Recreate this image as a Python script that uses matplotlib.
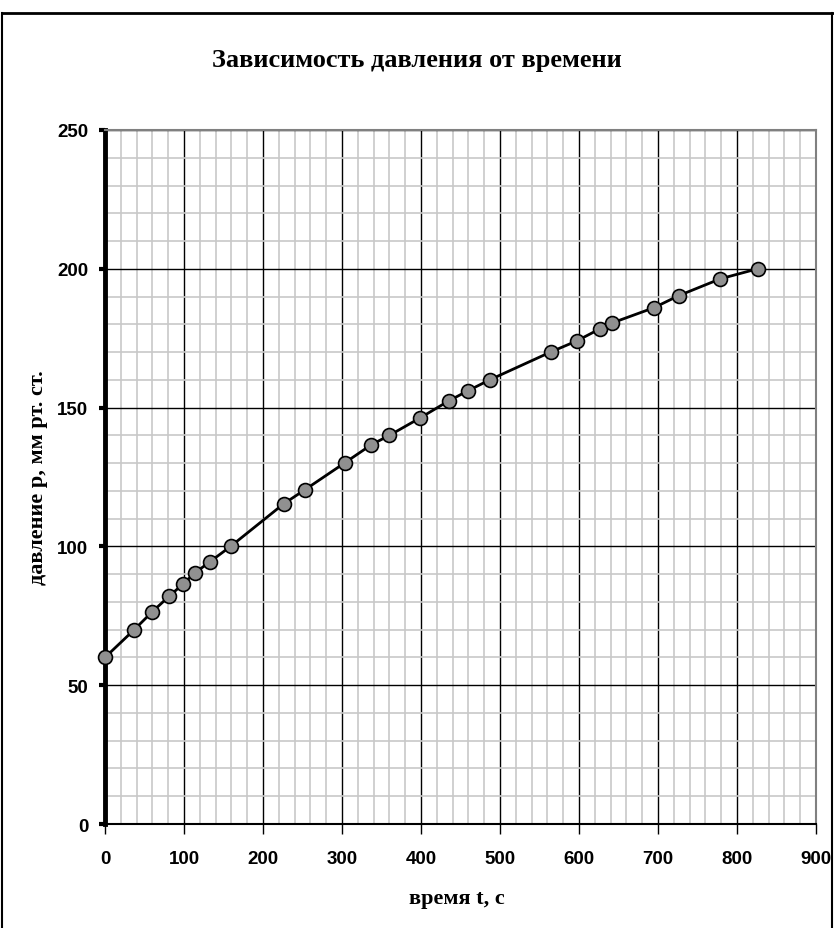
import matplotlib
matplotlib.use('Agg')
import matplotlib.pyplot as plt
from matplotlib.ticker import MultipleLocator
from matplotlib.lines import Line2D

# время t, с и давление p, мм рт. ст.
t_values = [0, 37, 60, 81, 99, 114, 133, 159, 226, 253, 304, 337, 360, 399,
            435, 459, 487, 564, 597, 626, 642, 695, 726, 779, 826]
p_values = [60, 70, 76.5, 82, 86.5, 90.5, 94.5, 100, 115.3, 120.4, 130.2, 136.6,
            140, 146.3, 152.4, 156, 160, 170, 174, 178.3, 180.5, 186, 190.3, 196.4, 200]

x_ticks = [0, 100, 200, 300, 400, 500, 600, 700, 800, 900]
y_ticks = [0, 50, 100, 150, 200, 250]

title = 'Зависимость давления от времени'
x_label = 'время t, с'
y_label = 'давление p, мм рт. ст.'

fig = plt.figure(figsize=(8.34, 9.29), dpi=100)
ax = fig.add_axes([105 / 834, 1 - 825 / 929, 711 / 834, 694 / 929])

ax.set_xlim(0, 900)
ax.set_ylim(0, 250)
ax.set_xticks(x_ticks)
ax.set_yticks(y_ticks)
ax.xaxis.set_minor_locator(MultipleLocator(20))
ax.yaxis.set_minor_locator(MultipleLocator(10))

ax.grid(which='minor', color='#c8c8c8', linewidth=1.2, zorder=0)
ax.grid(which='major', color='black', linewidth=1.0, zorder=1)
ax.tick_params(which='minor', length=0)
ax.tick_params(axis='x', which='major', direction='out', length=7, width=1, pad=12)
ax.tick_params(axis='y', which='major', direction='out', length=4, width=3, pad=8)

for lab in ax.get_xticklabels() + ax.get_yticklabels():
    lab.set_fontfamily('Liberation Sans')
    lab.set_fontweight('bold')
    lab.set_fontsize(13.5)

ax.spines['left'].set_linewidth(3.5)
ax.spines['left'].set_color('black')
ax.spines['bottom'].set_linewidth(1.5)
ax.spines['bottom'].set_color('black')
ax.spines['top'].set_color('#808080')
ax.spines['top'].set_linewidth(1.5)
ax.spines['right'].set_color('#808080')
ax.spines['right'].set_linewidth(1.5)

ax.plot(t_values, p_values, color='black', linewidth=2, marker='o',
        markersize=10, markerfacecolor='#909090', markeredgecolor='black',
        markeredgewidth=1.2, zorder=5, clip_on=False)

fig.text(417 / 834, 1 - 61 / 929, title, ha='center', va='center',
         fontfamily='Liberation Serif', fontweight='bold', fontsize=19)
fig.text(457 / 834, 1 - 899 / 929, x_label, ha='center', va='center',
         fontfamily='Liberation Serif', fontweight='bold', fontsize=16)
fig.text(38 / 834, 1 - 478 / 929, y_label, ha='center', va='center', rotation=90,
         fontfamily='Liberation Serif', fontweight='bold', fontsize=16)

# рамка рисунка
fig.add_artist(Line2D([0.002, 0.999], [1 - 14 / 929, 1 - 14 / 929], color='black', linewidth=2))
fig.add_artist(Line2D([0.002, 0.002], [0, 1 - 14 / 929], color='black', linewidth=1.5))
fig.add_artist(Line2D([0.998, 0.998], [0, 1 - 14 / 929], color='black', linewidth=1.5))

fig.savefig('out.png', dpi=100)
